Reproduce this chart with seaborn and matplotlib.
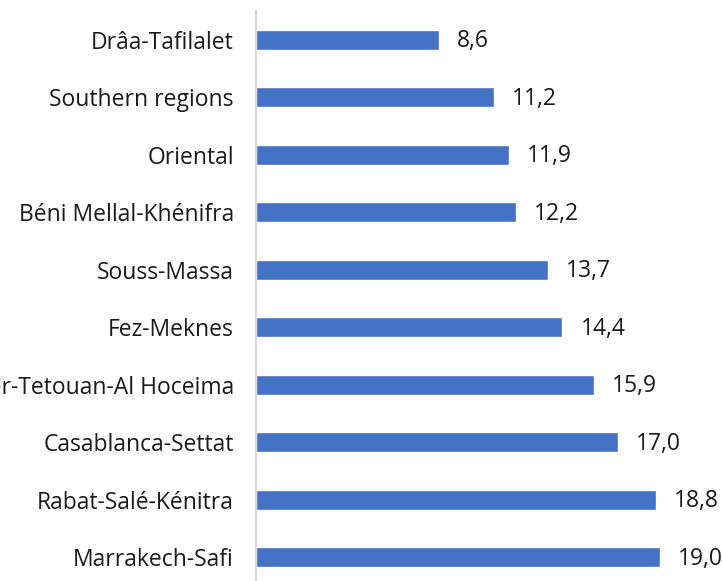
import pandas as pd
import seaborn as sns
import matplotlib.pyplot as plt

# veriler (ustten alta)
regions = ['Drâa-Tafilalet', 'Southern regions', 'Oriental', 'Béni Mellal-Khénifra',
           'Souss-Massa', 'Fez-Meknes', 'Tangier-Tetouan-Al Hoceima', 'Casablanca-Settat',
           'Rabat-Salé-Kénitra', 'Marrakech-Safi']
values = [8.6, 11.2, 11.9, 12.2, 13.7, 14.4, 15.9, 17.0, 18.8, 19.0]

df = pd.DataFrame({'region': regions, 'value': values})

sns.set_style('white')
plt.rcParams['font.family'] = ['Open Sans', 'DejaVu Sans']

fig = plt.figure(figsize=(7.22, 5.81), dpi=100)
ax = fig.add_axes([0.3546, -0.0086, 0.6454, 0.9897])

sns.barplot(data=df, x='value', y='region', color='#4472C4', width=0.35,
            saturation=1, ax=ax)

ax.set_xlim(0, 21.9)
ax.set_xlabel('')
ax.set_ylabel('')
ax.set_xticks([])
for s in ['top', 'right', 'bottom']:
    ax.spines[s].set_visible(False)
ax.spines['left'].set_color('#D9D9D9')
ax.spines['left'].set_linewidth(1.5)
ax.tick_params(axis='y', length=0, pad=16, labelsize=16.5, labelcolor='#1a1a1a')

for i, v in enumerate(values):
    ax.text(v + 0.85, i + 0.03, f'{v:.1f}'.replace('.', ','), va='center', ha='left',
            fontsize=16.5, color='#1a1a1a')

fig.savefig('out.png', dpi=100)
